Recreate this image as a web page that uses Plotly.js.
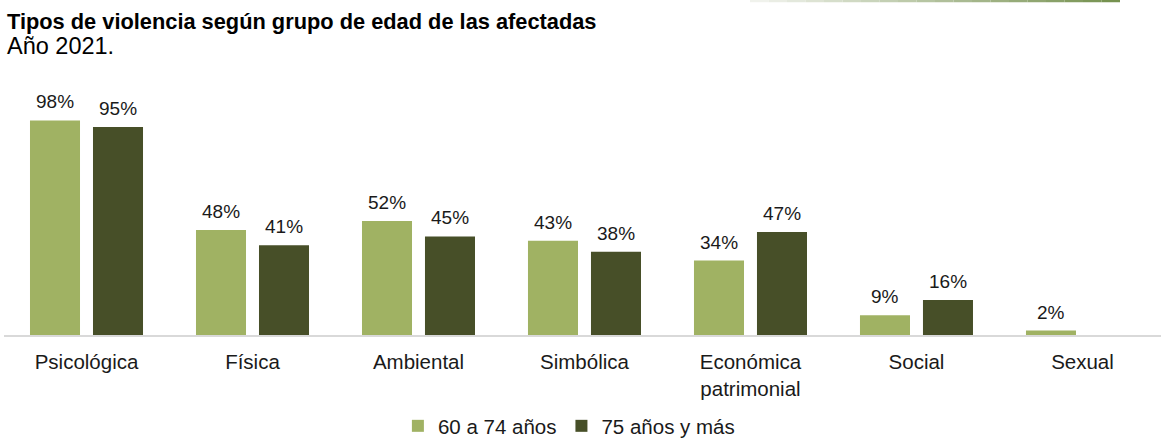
<!DOCTYPE html>
<html>
<head>
<meta charset="utf-8">
<script src="https://cdn.plot.ly/plotly-3.0.1.min.js"></script>
<style>html,body{margin:0;padding:0;background:#fff;}#chart{width:1161px;height:438px;}</style>
</head>
<body>
<div id="chart"></div>
<script>
var categories = ["Psicológica", "Física", "Ambiental", "Simbólica", "Económica<br>patrimonial", "Social", "Sexual"];
var seriesNames = ["60 a 74 años", "75 años y más"];
var values6074 = [98, 48, 52, 43, 34, 9, 2];
var values75 = [95, 41, 45, 38, 47, 16, null];
var colors = ["#a0b263", "#474f28"];

var FONT = "Liberation Sans, Arial, sans-serif";
var BASE = 335, PH = 219; // plot baseline px and plot height px

function py(p){ return (BASE - p) / PH; } // pixel row -> paper y
function fmt(v){ return v == null ? "" : v + "%"; }

var traces = [values6074, values75].map(function(vals, i){
  return {
    type: "bar",
    name: seriesNames[i],
    x: categories,
    y: vals,
    marker: {color: colors[i]},
    hoverinfo: "skip"
  };
});

var annotations = [];
[values6074, values75].forEach(function(vals, i){
  vals.forEach(function(v, j){
    if (v == null) return;
    annotations.push({
      x: categories[j], y: v, xref: "x", yref: "y",
      text: fmt(v), showarrow: false,
      xshift: i === 0 ? -31.5 : 31.5,
      yanchor: "bottom", yshift: 6,
      font: {family: FONT, size: 19, color: "#1a1a1a"}
    });
  });
});

annotations.push({
  xref: "paper", yref: "paper", x: 0.0012, y: py(22),
  xanchor: "left", yanchor: "middle", showarrow: false,
  text: "<b>Tipos de violencia según grupo de edad de las afectadas</b>",
  font: {family: FONT, size: 21.8, color: "#000"}
});
annotations.push({
  xref: "paper", yref: "paper", x: 0.0012, y: py(46),
  xanchor: "left", yanchor: "middle", showarrow: false,
  text: "Año 2021.",
  font: {family: FONT, size: 23.5, color: "#000"}
});

// decorative gradient line at top right
var shapes = [];
var x0 = 750, x1 = 1120, n = 20;
for (var k = 0; k < n; k++){
  var t = k / (n - 1);
  var c0 = [240, 242, 236], c1 = [118, 146, 80];
  var col = "rgb(" + c0.map(function(a, q){ return Math.round(a + (c1[q] - a) * t); }).join(",") + ")";
  shapes.push({
    type: "line", xref: "paper", yref: "paper",
    x0: (x0 + (x1 - x0) * k / n - 4) / 1157, x1: (x0 + (x1 - x0) * (k + 1) / n - 4) / 1157,
    y0: py(1), y1: py(1),
    line: {color: col, width: 2.5}
  });
}

var layout = {
  width: 1161, height: 438,
  margin: {l: 4, r: 0, t: 116, b: 103, autoexpand: false},
  paper_bgcolor: "#fff", plot_bgcolor: "#fff",
  barmode: "group", bargap: 0.241, bargroupgap: 0.206,
  showlegend: true,
  legend: {
    orientation: "h", xref: "container", yref: "paper",
    x: 0.49, xanchor: "center", y: py(446), yanchor: "bottom",
    font: {family: FONT, size: 20.5, color: "#1a1a1a"},
    itemwidth: 30, traceorder: "normal"
  },
  xaxis: {
    type: "category",
    range: [-0.497, 6.473],
    showline: true, linecolor: "#d9d9d9", linewidth: 1.5,
    ticks: "", showgrid: false, zeroline: false,
    tickfont: {family: FONT, size: 20.5, color: "#1a1a1a"},
    ticklabelstandoff: 8,
    automargin: false,
    fixedrange: true
  },
  yaxis: {
    range: [0, 100], visible: false, showgrid: false, zeroline: false, fixedrange: true
  },
  annotations: annotations,
  shapes: shapes,
  font: {family: FONT}
};

Plotly.newPlot("chart", traces, layout, {displayModeBar: false, staticPlot: true});
</script>
</body>
</html>
